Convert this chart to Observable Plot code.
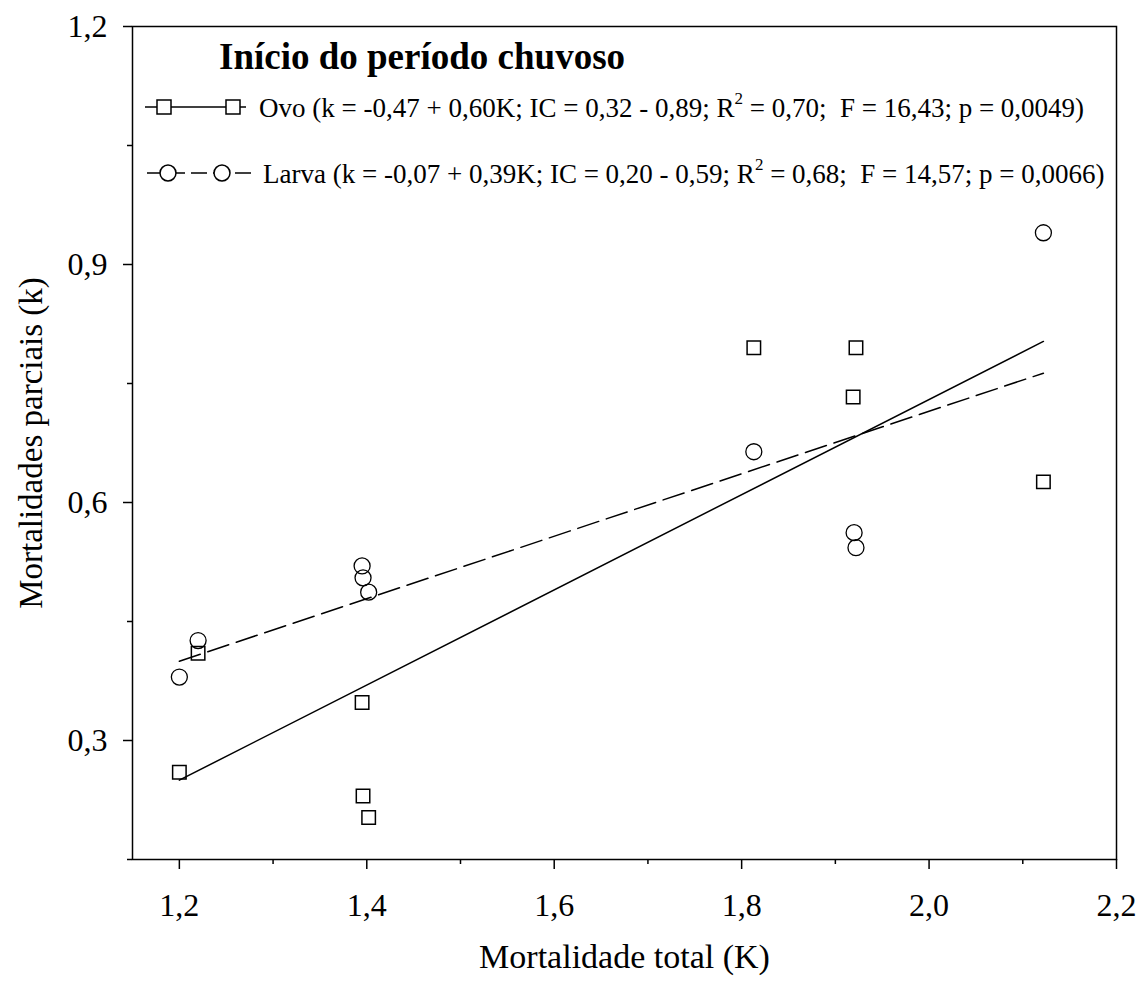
<!DOCTYPE html>
<html><head><meta charset="utf-8">
<script src="https://cdn.jsdelivr.net/npm/d3@7"></script>
<script src="https://cdn.jsdelivr.net/npm/@observablehq/plot@0.6"></script>
<style>
body{margin:0;background:#fff;}
#chart{width:1139px;height:981px;}
svg text{font-family:"Liberation Serif","Times New Roman",serif;}
</style></head><body><div id="chart"></div>
<script>
// Ovo (squares)
const ovoX = [1.20, 1.22, 1.395, 1.396, 1.402, 1.813, 1.919, 1.922, 2.122];
const ovoY = [0.26, 0.41, 0.348, 0.23, 0.203, 0.795, 0.733, 0.795, 0.626];
// Larva (circles)
const larvaX = [1.20, 1.22, 1.395, 1.396, 1.402, 1.813, 1.920, 1.922, 2.122];
const larvaY = [0.38, 0.426, 0.52, 0.505, 0.487, 0.664, 0.562, 0.543, 0.94];
// fitted lines (end points)
const fitX = [1.20, 2.122];
const ovoFitY = [0.25, 0.803];
const larvaFitY = [0.40, 0.763];
// ticks
const xMajor = [1.2, 1.4, 1.6, 1.8, 2.0, 2.2];
const xMinor = [1.3, 1.5, 1.7, 1.9, 2.1];
const yMajor = [0.3, 0.6, 0.9, 1.2];
const yMinor = [0.15, 0.45, 0.75, 1.05];
// texts
const titleText = "Início do período chuvoso";
const xTitle = "Mortalidade total (K)";
const yTitle = "Mortalidades parciais (k)";
const ovoLegend = ["Ovo (k = -0,47 + 0,60K; IC = 0,32 - 0,89; R", "2", " = 0,70;  F = 16,43; p = 0,0049)"];
const larvaLegend = ["Larva (k = -0,07 + 0,39K; IC = 0,20 - 0,59; R", "2", " = 0,68;  F = 14,57; p = 0,0066)"];

const fmt = d => d.toFixed(1).replace(".", ",");
const ovo = ovoX.map((x, i) => ({x, y: ovoY[i]}));
const larva = larvaX.map((x, i) => ({x, y: larvaY[i]}));
const ovoFit = fitX.map((x, i) => ({x, y: ovoFitY[i]}));
const larvaFit = fitX.map((x, i) => ({x, y: larvaFitY[i]}));

const FONT = "Liberation Serif, Times New Roman, serif";
const plot = Plot.plot({
  width: 1139, height: 981,
  marginLeft: 132, marginRight: 23, marginTop: 26, marginBottom: 122,
  style: {fontFamily: FONT, background: "white", color: "black", overflow: "visible"},
  x: {domain: [1.15, 2.2]},
  y: {domain: [0.15, 1.2]},
  marks: [
    Plot.frame({stroke: "black", strokeWidth: 1.5}),
    Plot.axisX(xMajor, {tickSize: 10, tickPadding: 24, tickFormat: fmt, fontSize: 32, label: null, strokeWidth: 1.5}),
    Plot.axisX(xMinor, {tickSize: 5, tickFormat: () => "", label: null, strokeWidth: 1.5}),
    Plot.axisY(yMajor, {tickSize: 9, tickPadding: 16, tickFormat: fmt, fontSize: 32, label: null, strokeWidth: 1.5}),
    Plot.axisY(yMinor, {tickSize: 5, tickFormat: () => "", label: null, strokeWidth: 1.5}),
    Plot.line(ovoFit, {x: "x", y: "y", stroke: "black", strokeWidth: 1.5}),
    Plot.line(larvaFit, {x: "x", y: "y", stroke: "black", strokeWidth: 1.5, strokeDasharray: "22,8"}),
    Plot.dot(ovo, {x: "x", y: "y", symbol: "square", r: 7.6, stroke: "black", strokeWidth: 1.5, fill: "none"}),
    Plot.dot(larva, {x: "x", y: "y", symbol: "circle", r: 8, stroke: "black", strokeWidth: 1.3, fill: "none"}),
    Plot.text([xTitle], {frameAnchor: "bottom", dy: 98, textAnchor: "middle", lineAnchor: "middle", fontSize: 34, fill: "black"}),
    Plot.text([yTitle], {frameAnchor: "left", dx: -101, rotate: -90, textAnchor: "middle", lineAnchor: "middle", fontSize: 33, fill: "black"})
  ]
});
document.getElementById("chart").appendChild(plot);

// title and legend
const svg = d3.select(plot);
const g = svg.append("g").attr("font-family", FONT).attr("fill", "black").attr("text-anchor", "start");
g.append("text").attr("x", 219).attr("y", 69).attr("font-size", 37).attr("font-weight", "bold").text(titleText);

function legendRow(y, dashed, symbol, xs, x1, x2, textX, parts) {
  g.append("line").attr("x1", x1).attr("x2", x2).attr("y1", y).attr("y2", y)
    .attr("stroke", "black").attr("stroke-width", 1.5)
    .attr("stroke-dasharray", dashed ? "16,6" : null);
  const sym = d3.symbol().type(symbol === "square" ? d3.symbolSquare : d3.symbolCircle).size(symbol === "square" ? 196 : 200);
  xs.forEach(x => g.append("path").attr("d", sym()).attr("transform", `translate(${x},${y})`)
    .attr("fill", "white").attr("stroke", "black").attr("stroke-width", 1.5));
  const t = g.append("text").attr("x", textX).attr("y", y + 10).attr("font-size", 27).style("white-space", "pre");
  t.append("tspan").text(parts[0]);
  t.append("tspan").attr("dy", -13).attr("font-size", 17).text(parts[1]);
  t.append("tspan").attr("dy", 13).text(parts[2]);
}
legendRow(107, false, "square", [164, 233], 145, 246, 259, ovoLegend);
legendRow(173, true, "circle", [168, 222], 147, 256, 263, larvaLegend);
</script></body></html>
